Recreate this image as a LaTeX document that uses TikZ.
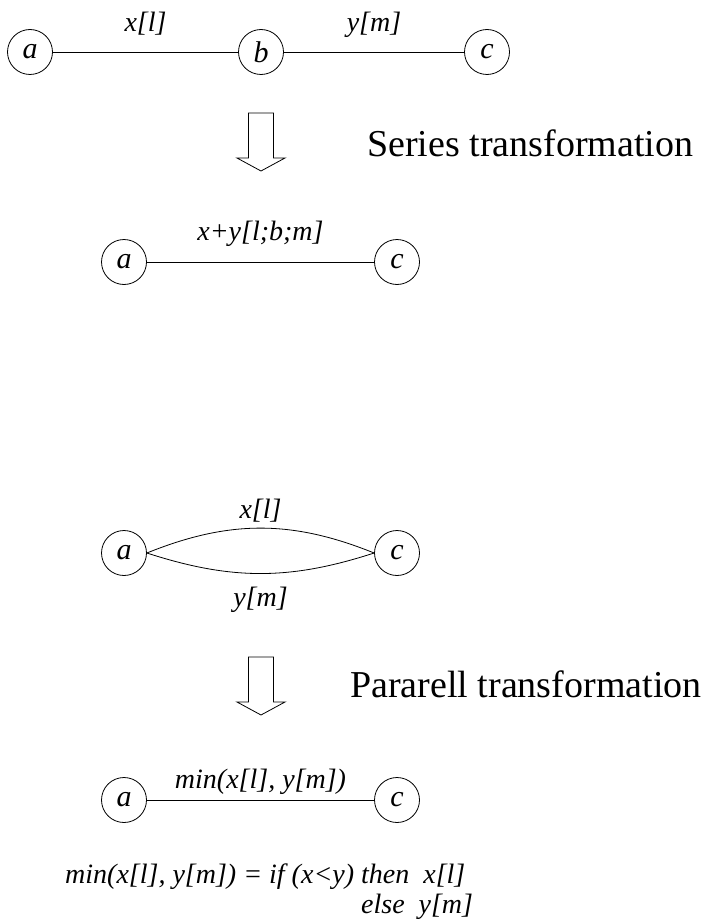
\documentclass[tikz,border=0pt]{standalone}
\usepackage{fontspec}
\setmainfont{Liberation Serif}[ItalicFont={Liberation Serif Italic}]
\tikzset{
    vtx/.style={circle, draw, line width=0.8pt, minimum size=45pt, inner sep=0pt,
        font=\fontsize{30}{32}\selectfont\itshape},
    lbl/.style={anchor=base, font=\fontsize{28}{30}\selectfont\itshape},
    title/.style={anchor=base west, inner sep=0pt, font=\fontsize{38}{44}\selectfont},
    wire/.style={line width=0.8pt},
    blockarrow/.style={line width=0.8pt}
}

\begin{document}
\begin{tikzpicture}[x=1pt, y=-1pt]
                        \useasboundingbox (0,0) rectangle (707,923);

                        \node[vtx] (a1) at (30, 52) {a};
                        \node[vtx] (b1) at (261, 52) {b};
                        \node[vtx] (c1) at (487, 52) {c};
                        \draw[wire] (a1) -- node[lbl, yshift=20pt] {x[l]} (b1);
                        \draw[wire] (b1) -- node[lbl, yshift=20pt] {y[m]} (c1);

                        \draw[blockarrow, shift={(261, 113)}]
                        (-12.5, 0) -- (12.5, 0) -- (12.5, 45) -- (24, 45) -- (0, 58)
                        -- (-24, 45) -- (-12.5, 45) -- cycle;
                        \node[title] (series) at (367, 157) {Series transformation};

                        \node[vtx] (a2) at (124, 262) {a};
                        \node[vtx] (c2) at (397, 262) {c};
                        \draw[wire] (a2) -- node[lbl, yshift=22pt] {x+y[l;b;m]} (c2);

                        \node[vtx] (a3) at (124, 553) {a};
                        \node[vtx] (c3) at (397, 553) {c};
                        \draw[wire] (a3.east) to[bend left=22] node[lbl, yshift=10pt] {x[l]} (c3.west);
                        \draw[wire] (a3.east) to[bend right=18] node[lbl, yshift=-33pt] {y[m]} (c3.west);

                        \draw[blockarrow, shift={(261, 657)}]
                        (-12.5, 0) -- (12.5, 0) -- (12.5, 45) -- (24, 45) -- (0, 58)
                        -- (-24, 45) -- (-12.5, 45) -- cycle;
                        \node[title] (parallel) at (350, 697) {Pararell transformation};

                        \node[vtx] (a4) at (124, 800) {a};
                        \node[vtx] (c4) at (397, 800) {c};
                        \draw[wire] (a4) -- node[lbl, yshift=12pt] {min(x[l], y[m])} (c4);

                        \node[lbl, anchor=base west, inner sep=0pt] (rule) at (65, 883)
                        {\begin{tabular}[t]{@{}l@{\ }l@{}}
                            min(x[l], y[m]) = if (x<y) & then\ \ x[l]\\
                                                       & else\ \ y[m]
                        \end{tabular}};
                    \end{tikzpicture}
\end{document}
